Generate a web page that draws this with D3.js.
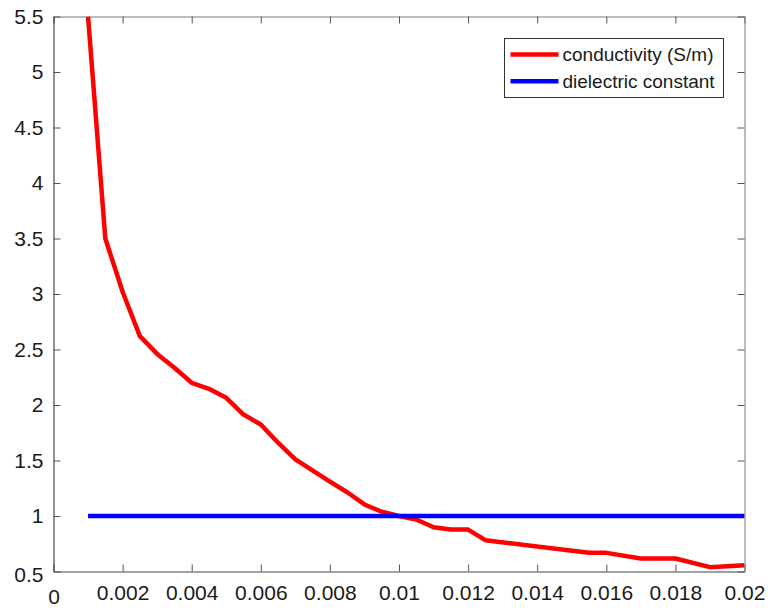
<!DOCTYPE html>
<html>
<head>
<meta charset="utf-8">
<script src="https://cdn.jsdelivr.net/npm/d3@7"></script>
<style>
  html, body { margin: 0; padding: 0; background: #fff; }
  svg { display: block; font-family: Arial, "Liberation Sans", Helvetica, sans-serif; }
</style>
</head>
<body>
<svg id="chart" width="768" height="613"></svg>
<script>
// Electrode spacing (m) and measured conductivity (S/m)
const condX = [0.001, 0.0015, 0.002, 0.0025, 0.003, 0.0035, 0.004, 0.0045, 0.005, 0.0055,
               0.006, 0.0065, 0.007, 0.008, 0.0085, 0.009, 0.0095, 0.01, 0.0105, 0.011,
               0.0115, 0.012, 0.0125, 0.0155, 0.016, 0.017, 0.018, 0.019, 0.02];
const condY = [5.5, 3.5, 3.02, 2.62, 2.46, 2.335, 2.2, 2.146, 2.065, 1.914,
               1.824, 1.66, 1.51, 1.31, 1.214, 1.104, 1.038, 1.0, 0.968, 0.899,
               0.878, 0.878, 0.782, 0.668, 0.668, 0.617, 0.617, 0.539, 0.557];
// Relative dielectric constant
const dielX = [0.001, 0.02];
const dielY = [1, 1];

const xTicks = [0, 0.002, 0.004, 0.006, 0.008, 0.01, 0.012, 0.014, 0.016, 0.018, 0.02];
const xTickLabels = ["0", "0.002", "0.004", "0.006", "0.008", "0.01", "0.012", "0.014", "0.016", "0.018", "0.02"];
const yTicks = [0.5, 1, 1.5, 2, 2.5, 3, 3.5, 4, 4.5, 5, 5.5];
const yTickLabels = ["0.5", "1", "1.5", "2", "2.5", "3", "3.5", "4", "4.5", "5", "5.5"];

const seriesNames = ["conductivity (S/m)", "dielectric constant"];
const seriesColors = ["#ff0000", "#0000ff"];

const svg = d3.select("#chart");
const plotL = 53.5, plotR = 744.5, plotT = 16.5, plotB = 571.5;

const x = d3.scaleLinear().domain([0, 0.02]).range([plotL, plotR]);
const y = d3.scaleLinear().domain([0.5, 5.5]).range([plotB, plotT]);

svg.append("defs").append("clipPath").attr("id", "plot-clip")
  .append("rect").attr("x", plotL).attr("y", plotT)
  .attr("width", plotR - plotL).attr("height", plotB - plotT);

// Box axes: inward ticks on all four sides
const tickLen = 7;
const axisColor = "#262626";
const labelSize = 21;

const fmtX = (d, i) => xTickLabels[i];
const fmtY = (d, i) => yTickLabels[i];

const gBottom = svg.append("g").attr("transform", `translate(0,${plotB})`)
  .call(d3.axisBottom(x).tickValues(xTicks).tickFormat(fmtX).tickSizeInner(-tickLen).tickSizeOuter(0).tickPadding(14));
const gTop = svg.append("g").attr("transform", `translate(0,${plotT})`)
  .call(d3.axisTop(x).tickValues(xTicks).tickFormat("").tickSizeInner(-tickLen).tickSizeOuter(0));
const gLeft = svg.append("g").attr("transform", `translate(${plotL},0)`)
  .call(d3.axisLeft(y).tickValues(yTicks).tickFormat(fmtY).tickSizeInner(-tickLen).tickSizeOuter(0).tickPadding(10));
const gRight = svg.append("g").attr("transform", `translate(${plotR},0)`)
  .call(d3.axisRight(y).tickValues(yTicks).tickFormat("").tickSizeInner(-tickLen).tickSizeOuter(0));

[gBottom, gLeft].forEach(g => {
  g.select(".domain").attr("stroke", axisColor);
  g.selectAll(".tick line").attr("stroke", "#555");
  g.selectAll(".tick text").attr("fill", "#1a1a1a").attr("font-size", labelSize)
    .attr("font-family", "Arial, 'Liberation Sans', sans-serif");
});
[gTop, gRight].forEach(g => {
  g.select(".domain").attr("stroke", "#7a7a7a");
  g.selectAll(".tick line").attr("stroke", "#555");
});
gBottom.select(".domain").attr("stroke", "#444");

// Zero label on the x-axis sits a little lower, 0.5 on the y-axis a little lower too
gBottom.selectAll(".tick text").filter((d, i) => i === 0).attr("dy", "0.88em");
gLeft.selectAll(".tick text").filter((d, i) => i === 0).attr("dy", "0.46em");

// Series lines
const line = d3.line().x(d => x(d[0])).y(d => y(d[1]));
const plot = svg.append("g").attr("clip-path", "url(#plot-clip)");

plot.append("path")
  .datum(d3.zip(condX, condY))
  .attr("fill", "none").attr("stroke", seriesColors[0])
  .attr("stroke-width", 4.5).attr("stroke-linejoin", "round")
  .attr("d", line);

plot.append("path")
  .datum(d3.zip(dielX, dielY))
  .attr("fill", "none").attr("stroke", seriesColors[1])
  .attr("stroke-width", 4.5)
  .attr("d", line);

// Legend
const lg = svg.append("g").attr("transform", "translate(504.5,38.5)");
lg.append("rect").attr("width", 219).attr("height", 59)
  .attr("fill", "#fff").attr("stroke", "#333").attr("stroke-width", 1);
seriesNames.forEach((name, i) => {
  const cy = 16 + i * 26.7;
  lg.append("line").attr("x1", 6).attr("x2", 54).attr("y1", cy).attr("y2", cy)
    .attr("stroke", seriesColors[i]).attr("stroke-width", 4.5);
  lg.append("text").attr("x", 58).attr("y", cy).attr("dy", "0.35em")
    .attr("font-size", 19).attr("fill", "#1a1a1a").text(name);
});
</script>
</body>
</html>
